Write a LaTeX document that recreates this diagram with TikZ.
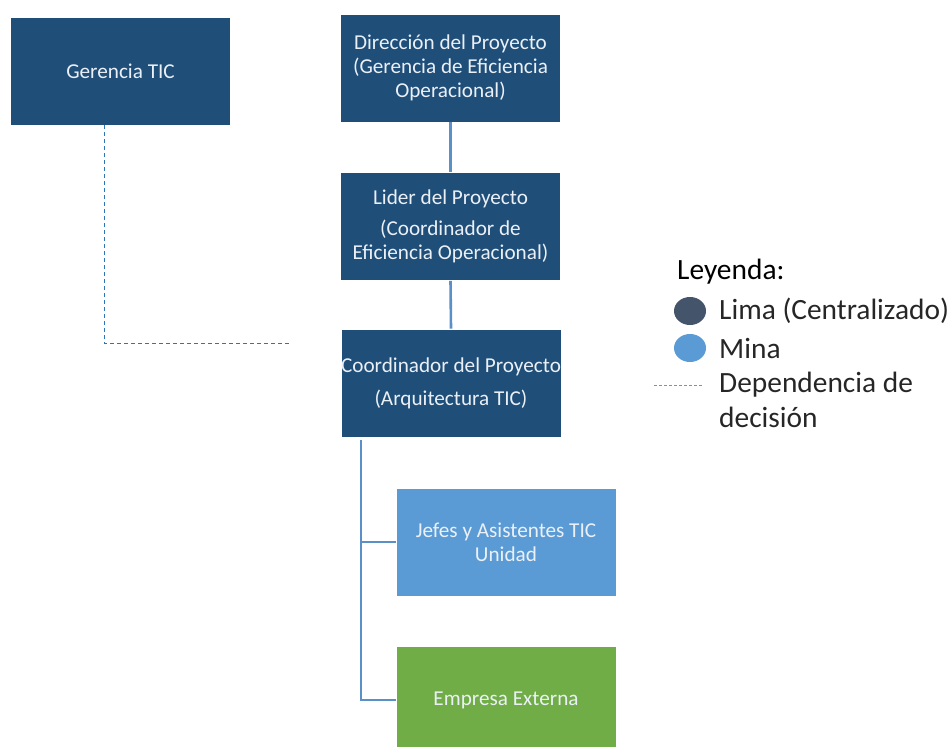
\documentclass[tikz,border=0pt]{standalone}
\usepackage{fontspec}
\setmainfont{Carlito}
\usetikzlibrary{shapes.geometric}
\definecolor{navy}{RGB}{31,78,121}
\definecolor{mina}{RGB}{91,155,213}
\definecolor{green}{RGB}{112,173,71}
\definecolor{slate}{RGB}{68,84,106}
\definecolor{linkblue}{RGB}{91,143,200}
\definecolor{dashblue}{RGB}{46,117,182}
\definecolor{legtext}{RGB}{38,38,38}
\definecolor{boxtext}{RGB}{235,240,246}
\begin{document}
\begin{tikzpicture}[x=1pt,y=-1pt,
  orgbox/.style={rectangle, draw=white, line width=0.8pt, text=boxtext, align=center,
    minimum width=220pt, minimum height=108pt, inner sep=0pt,
    font=\fontsize{21.2}{24}\selectfont},
  link/.style={linkblue, line width=2.6pt},
  decision/.style={dashblue, line width=1pt, dash pattern=on 4pt off 3pt},
  legendtext/.style={anchor=west, inner sep=0pt, text=legtext, align=left,
    font=\fontsize{29.4}{35}\selectfont},
  dot/.style={ellipse, minimum width=32pt, minimum height=28pt, inner sep=0pt}]
\useasboundingbox (0,0) rectangle (949,746);
\clip (0,0) rectangle (949,746);

% boxes of the chart
\node[orgbox, fill=navy] (gerencia) at (120.5,71) {Gerencia TIC};
\node[orgbox, fill=navy] (direccion) at (450.5,68)
  {Dirección del Proyecto\\(Gerencia de Eficiencia\\Operacional)};
\node[orgbox, fill=navy] (lider) at (450.5,226.5)
  {Lider del Proyecto\\[7pt](Coordinador de\\Eficiencia Operacional)};
\node[orgbox, fill=navy] (coord) at (451,383)
  {Coordinador del Proyecto\\[9pt](Arquitectura TIC)};
\node[orgbox, fill=mina] (jefes) at (506,542)
  {Jefes y Asistentes TIC\\Unidad};
\node[orgbox, fill=green] (empresa) at (506,700) {Empresa Externa};

% solid reporting lines
\draw[link] (direccion.south) -- (lider.north);
\draw[link] (lider.south) -- (coord.north);
\coordinate (trunk) at (361,440);
\draw[link] (trunk) |- (jefes.west);
\draw[link] (trunk) |- (empresa.west);

% decision dependency
\coordinate (gturn) at (104,343);
\coordinate (gend) at (290,343);
\draw[decision] (gerencia.south -| gturn) -- (gturn) -- (gend);

% legend
\node[anchor=west, inner sep=0pt, text=black, font=\fontsize{29.4}{34}\selectfont]
  (leyenda) at (677,272) {Leyenda:};
\node[dot, fill=slate] (dotlima) at (690,311) {};
\node[dot, fill=mina] (dotmina) at (690,348) {};
\node[legendtext] (lima) at (719,311) {Lima (Centralizado)};
\node[legendtext] (mina) at (719,348) {Mina};
\node[legendtext] (dep) at (719,400) {Dependencia de\\decisión};
\coordinate (dashA) at (654,385);
\coordinate (dashB) at (702,385);
\draw[mina, line width=1pt, dash pattern=on 3pt off 2pt] (dashA) -- (dashB);
\end{tikzpicture}
\end{document}
